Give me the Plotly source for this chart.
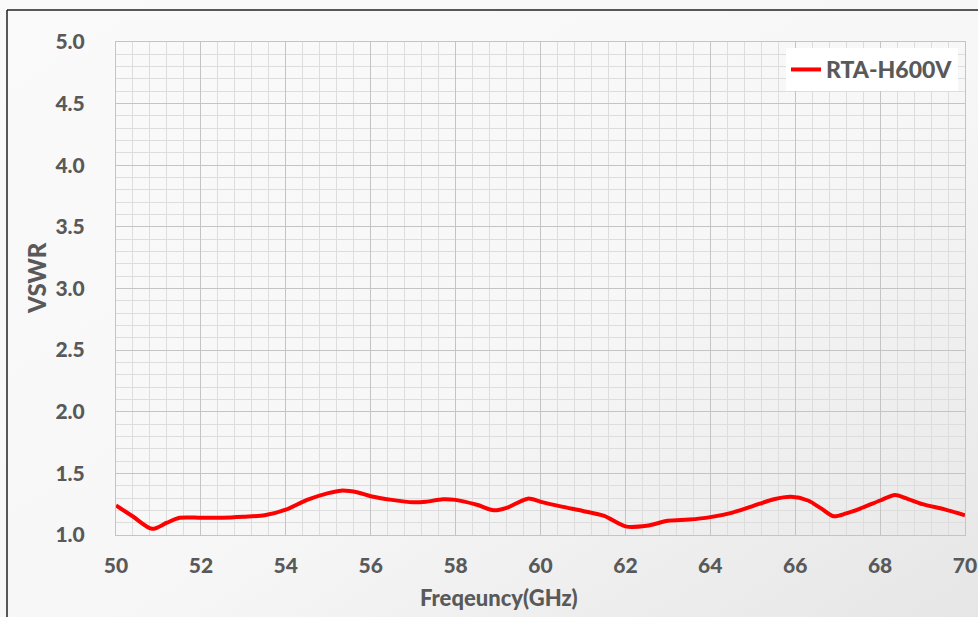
import plotly.graph_objects as go

# Measured VSWR of the RTA-H600V across the V band
freq_ghz = [50.0, 50.4, 50.85, 51.2, 51.5, 52.0, 52.5, 53.0, 53.5, 54.0, 54.5,
            55.0, 55.3, 55.7, 56.0, 56.5, 57.0, 57.3, 57.7, 58.0, 58.5, 58.9,
            59.2, 59.7, 60.0, 60.5, 61.0, 61.5, 62.0, 62.5, 63.0, 63.5, 64.0,
            64.5, 65.0, 65.5, 65.9, 66.3, 66.6, 66.9, 67.2, 67.5, 68.0, 68.35,
            68.6, 69.0, 69.5, 70.0]
vswr = [1.24, 1.15, 1.05, 1.10, 1.14, 1.14, 1.14, 1.148, 1.16, 1.205, 1.285,
        1.34, 1.36, 1.345, 1.315, 1.285, 1.265, 1.27, 1.29, 1.285, 1.245, 1.20,
        1.22, 1.295, 1.27, 1.23, 1.195, 1.155, 1.07, 1.075, 1.115, 1.125, 1.145,
        1.18, 1.235, 1.29, 1.31, 1.28, 1.218, 1.152, 1.175, 1.21, 1.28, 1.325,
        1.30, 1.25, 1.21, 1.16]
series_name = "RTA-H600V"

x_ticks = [50, 52, 54, 56, 58, 60, 62, 64, 66, 68, 70]
y_ticks = [1.0, 1.5, 2.0, 2.5, 3.0, 3.5, 4.0, 4.5, 5.0]
y_tick_text = [f"{v:.1f}" for v in y_ticks]

W, H = 978, 617
ML, MR, MT, MB = 116, 13, 42, 82
PW, PH = W - ML - MR, H - MT - MB

TEXT = "#595959"
FONT = "Lato"

# soft grey wash behind the whole chart, darker toward the lower right
BG_SVG = (
    "data:image/svg+xml;utf8,"
    "<svg xmlns='http://www.w3.org/2000/svg' width='978' height='617'>"
    "<defs><linearGradient id='g' x1='0' y1='0' x2='1' y2='1'>"
    "<stop offset='0' stop-color='%23fafafa'/>"
    "<stop offset='0.55' stop-color='%23f7f7f7'/>"
    "<stop offset='1' stop-color='%23e6e6e6'/>"
    "</linearGradient></defs>"
    "<rect width='978' height='617' fill='url(%23g)'/></svg>"
)

fig = go.Figure()
fig.add_trace(go.Scatter(
    x=freq_ghz, y=vswr, mode="lines", name=series_name,
    line=dict(color="#ff0000", width=4, shape="spline", smoothing=0.8),
))


def px_x(p):
    return (p - ML) / PW


def px_y(p):
    return (H - MB - p) / PH


axis_common = dict(
    showline=True, mirror=True, linecolor="#c4c4c4", linewidth=1,
    showgrid=True, gridcolor="#c4c4c4", gridwidth=1,
    zeroline=False, ticks="", automargin=False,
    tickfont=dict(family=FONT, size=21, color=TEXT, weight=900),
)

fig.update_layout(
    width=W, height=H,
    margin=dict(l=ML, r=MR, t=MT, b=MB, autoexpand=False),
    paper_bgcolor="#f7f7f7",
    plot_bgcolor="rgba(250,250,250,0.85)",
    showlegend=True,
    legend=dict(
        x=px_x(786), y=px_y(48), xanchor="left", yanchor="top",
        bgcolor="#ffffff", borderwidth=0,
        font=dict(family=FONT, size=23, color=TEXT, weight=900),
        itemwidth=30,
    ),
    xaxis=dict(
        range=[50, 70], tickvals=x_ticks, ticktext=[str(t) for t in x_ticks],
        ticklabelstandoff=12,
        minor=dict(dtick=0.4, tick0=50, showgrid=True, gridcolor="#dddddd", gridwidth=1),
        **axis_common,
    ),
    yaxis=dict(
        range=[1.0, 5.0], tickvals=y_ticks, ticktext=y_tick_text,
        ticklabelstandoff=26,
        minor=dict(dtick=0.1, tick0=1.0, showgrid=True, gridcolor="#dddddd", gridwidth=1),
        **axis_common,
    ),
    images=[dict(
        source=BG_SVG, xref="paper", yref="paper",
        x=px_x(0), y=px_y(0), sizex=W / PW, sizey=H / PH,
        xanchor="left", yanchor="top", sizing="stretch", layer="below",
    )],
    annotations=[
        dict(text="Freqeuncy(GHz)", x=px_x(499), y=px_y(597), xref="paper", yref="paper",
             showarrow=False, xanchor="center", yanchor="middle",
             font=dict(family=FONT, size=22, color=TEXT, weight=900)),
        dict(text="VSWR", x=px_x(36), y=px_y(278), xref="paper", yref="paper",
             showarrow=False, textangle=-90, xanchor="center", yanchor="middle",
             font=dict(family=FONT, size=24, color=TEXT, weight=900)),
    ],
    shapes=[
        dict(type="line", xref="paper", yref="paper",
             x0=px_x(7), x1=px_x(7), y0=px_y(10), y1=px_y(H + 5),
             line=dict(color="#222222", width=1.5)),
        dict(type="line", xref="paper", yref="paper",
             x0=px_x(7), x1=px_x(W + 5), y0=px_y(10), y1=px_y(10),
             line=dict(color="#222222", width=1.5)),
    ],
)

fig.write_html("out.html")
